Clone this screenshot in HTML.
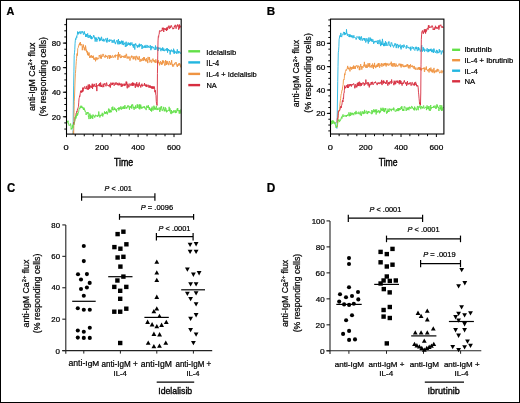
<!DOCTYPE html>
<html><head><meta charset="utf-8"><style>
html,body{margin:0;padding:0;background:#fff;}
.wrap{position:relative;width:520px;height:403px;overflow:hidden;}
.bd{position:absolute;left:0;top:0;width:520px;height:403px;box-sizing:border-box;border:1px solid #000;}
svg{will-change:transform;filter:blur(0.3px);}
svg text{font-family:"Liberation Sans", sans-serif;stroke:#000;stroke-width:0.22px;}
</style></head><body><div class="wrap">
<svg width="520" height="403" viewBox="0 0 520 403" font-family='"Liberation Sans", sans-serif' fill="#000" style="display:block">
<rect x="0" y="0" width="520" height="403" fill="#fff"/>
<clipPath id="ca"><rect x="66.5" y="19.1" width="114.7" height="115"/></clipPath>
<g clip-path="url(#ca)">
<polyline fill="none" stroke="#22b6e0" stroke-width="0.9" stroke-linejoin="round" points="72.76,134.7 73.05,132.4 73.34,105.9 73.62,85.9 73.91,71.8 74.20,55.6 74.49,52.8 74.77,49.7 75.06,43.7 75.35,40.2 75.63,38.6 75.92,39.5 76.21,37.7 76.50,36.6 76.78,37.7 77.07,35.0 77.36,34.5 77.64,31.5 77.93,33.7 78.22,34.4 78.51,32.3 78.79,33.1 79.08,32.1 79.37,33.3 79.65,32.6 79.94,31.2 80.23,31.5 80.52,32.3 80.80,34.1 81.09,32.3 81.38,32.5 81.67,31.7 81.95,32.2 82.24,31.1 82.53,32.5 82.81,32.6 83.10,32.2 83.39,34.6 83.68,34.3 83.96,34.5 84.25,31.3 84.54,33.7 84.82,33.4 85.11,33.5 85.40,34.9 85.69,37.0 85.97,34.1 86.26,35.5 86.55,34.4 86.83,37.0 87.12,36.4 87.41,34.0 87.70,33.4 87.98,37.2 88.27,38.0 88.56,36.4 88.85,35.1 89.13,35.8 89.42,35.8 89.71,37.6 89.99,35.9 90.28,34.9 90.57,37.0 90.86,38.8 91.14,38.2 91.43,36.1 91.72,39.2 92.00,37.6 92.29,38.5 92.58,37.6 92.87,37.7 93.15,37.4 93.44,35.4 93.73,36.6 94.01,35.6 94.30,37.5 94.59,38.4 94.88,37.3 95.16,41.6 95.45,38.6 95.74,37.7 96.03,39.6 96.31,37.7 96.60,38.8 96.89,41.7 97.17,39.1 97.46,39.7 97.75,39.3 98.04,38.8 98.32,36.9 98.61,38.2 98.90,38.7 99.18,38.2 99.47,41.2 99.76,37.6 100.05,40.1 100.33,38.7 100.62,40.5 100.91,40.7 101.19,40.0 101.48,36.8 101.77,37.9 102.06,40.0 102.34,40.0 102.63,41.1 102.92,39.9 103.21,40.4 103.49,38.8 103.78,41.4 104.07,40.6 104.35,41.1 104.64,41.1 104.93,39.2 105.22,39.7 105.50,39.3 105.79,38.4 106.08,38.4 106.36,41.8 106.65,39.9 106.94,42.6 107.23,40.9 107.51,37.9 107.80,40.4 108.09,41.2 108.37,40.5 108.66,40.7 108.95,40.7 109.24,41.9 109.52,39.6 109.81,39.5 110.10,41.1 110.39,40.7 110.67,40.2 110.96,39.6 111.25,40.5 111.53,40.3 111.82,41.6 112.11,42.9 112.40,42.4 112.68,40.3 112.97,40.0 113.26,41.2 113.54,42.5 113.83,41.5 114.12,39.5 114.41,39.7 114.69,42.6 114.98,42.2 115.27,44.1 115.55,44.0 115.84,42.2 116.13,42.2 116.42,41.0 116.70,40.4 116.99,41.0 117.28,40.5 117.57,43.0 117.85,44.3 118.14,42.2 118.43,39.0 118.71,41.6 119.00,44.3 119.29,42.8 119.58,41.0 119.86,44.1 120.15,42.2 120.44,43.8 120.72,41.6 121.01,41.9 121.30,42.7 121.59,40.6 121.87,43.5 122.16,44.5 122.45,41.2 122.73,44.3 123.02,40.8 123.31,43.2 123.60,45.1 123.88,44.0 124.17,43.6 124.46,43.5 124.75,44.1 125.03,42.5 125.32,46.9 125.61,45.3 125.89,44.6 126.18,41.7 126.47,46.4 126.76,45.1 127.04,45.9 127.33,45.5 127.62,43.6 127.90,43.7 128.19,42.4 128.48,44.9 128.77,44.3 129.05,42.9 129.34,43.1 129.63,44.9 129.91,43.2 130.20,45.7 130.49,42.6 130.78,44.2 131.06,45.0 131.35,44.6 131.64,43.7 131.93,42.4 132.21,44.8 132.50,45.6 132.79,44.4 133.07,46.2 133.36,47.7 133.65,44.6 133.94,45.6 134.22,43.9 134.51,46.5 134.80,49.6 135.08,45.8 135.37,45.3 135.66,43.4 135.95,44.5 136.23,45.1 136.52,44.9 136.81,46.1 137.09,45.8 137.38,47.7 137.67,45.5 137.96,46.9 138.24,46.8 138.53,45.2 138.82,44.7 139.11,47.3 139.39,43.7 139.68,46.6 139.97,45.3 140.25,44.8 140.54,45.8 140.83,46.1 141.12,44.0 141.40,44.9 141.69,45.7 141.98,49.0 142.26,48.1 142.55,45.3 142.84,46.2 143.13,48.0 143.41,47.9 143.70,47.4 143.99,46.1 144.27,46.3 144.56,45.6 144.85,47.9 145.14,46.0 145.42,47.6 145.71,47.7 146.00,44.9 146.29,46.8 146.57,47.5 146.86,47.7 147.15,48.0 147.43,45.4 147.72,45.2 148.01,46.2 148.30,47.2 148.58,46.2 148.87,47.5 149.16,47.1 149.44,47.1 149.73,47.6 150.02,45.6 150.31,45.1 150.59,45.7 150.88,50.2 151.17,46.0 151.45,46.6 151.74,48.5 152.03,48.3 152.32,46.6 152.60,46.3 152.89,46.8 153.18,47.9 153.47,48.2 153.75,47.2 154.04,48.3 154.33,49.7 154.61,49.5 154.90,48.9 155.19,48.1 155.48,45.5 155.76,50.0 156.05,48.4 156.34,48.7 156.62,48.4 156.91,46.9 157.20,46.8 157.49,48.8 157.77,49.7 158.06,51.0 158.35,49.4 158.63,47.4 158.92,49.2 159.21,48.3 159.50,48.1 159.78,48.5 160.07,47.7 160.36,49.2 160.65,50.5 160.93,51.2 161.22,48.5 161.51,49.7 161.79,50.0 162.08,48.5 162.37,50.5 162.66,47.4 162.94,48.4 163.23,50.3 163.52,50.8 163.80,48.5 164.09,51.2 164.38,51.0 164.67,50.1 164.95,49.7 165.24,49.9 165.53,49.5 165.81,50.5 166.10,50.4 166.39,48.5 166.68,49.0 166.96,50.7 167.25,48.1 167.54,52.6 167.83,50.7 168.11,49.5 168.40,49.0 168.69,50.1 168.97,51.0 169.26,49.9 169.55,50.8 169.84,50.1 170.12,54.5 170.41,50.9 170.70,51.8 170.98,49.8 171.27,49.6 171.56,49.8 171.85,51.3 172.13,50.5 172.42,51.4 172.71,50.9 172.99,51.3 173.28,52.4 173.57,48.7 173.86,49.8 174.14,53.9 174.43,50.6 174.72,53.1 175.01,52.1 175.29,52.3 175.58,52.4 175.87,51.3 176.15,52.0 176.44,53.7 176.73,52.0 177.02,51.2 177.30,49.3 177.59,51.9 177.88,53.5 178.16,52.7 178.45,51.1 178.74,53.0 179.03,53.2 179.31,51.5 179.60,52.0 179.89,51.8 180.17,53.0 180.46,53.5 180.75,52.9 181.04,52.6"/>
<polyline fill="none" stroke="#ef9442" stroke-width="0.9" stroke-linejoin="round" points="73.12,130.8 73.41,136.8 73.70,133.9 73.98,117.0 74.27,101.3 74.56,96.0 74.84,87.0 75.13,79.0 75.42,73.6 75.71,69.7 75.99,65.5 76.28,61.4 76.57,58.5 76.85,54.2 77.14,53.4 77.43,55.6 77.72,48.5 78.00,47.9 78.29,47.6 78.58,45.6 78.86,44.8 79.15,44.4 79.44,45.0 79.73,43.1 80.01,45.4 80.30,42.0 80.59,45.2 80.88,44.7 81.16,44.4 81.45,44.3 81.74,45.2 82.02,44.6 82.31,50.2 82.60,46.9 82.89,46.4 83.17,47.0 83.46,44.6 83.75,47.8 84.03,47.5 84.32,50.1 84.61,47.7 84.90,50.0 85.18,50.6 85.47,45.5 85.76,47.1 86.04,48.7 86.33,49.2 86.62,51.9 86.91,52.4 87.19,50.9 87.48,54.6 87.77,52.5 88.06,55.3 88.34,53.8 88.63,55.6 88.92,52.4 89.20,52.9 89.49,55.5 89.78,58.0 90.07,57.0 90.35,56.0 90.64,57.4 90.93,56.1 91.21,55.0 91.50,56.6 91.79,57.6 92.08,56.2 92.36,57.7 92.65,56.4 92.94,57.9 93.22,55.6 93.51,57.8 93.80,59.5 94.09,58.2 94.37,59.0 94.66,59.7 94.95,58.7 95.24,57.4 95.52,61.3 95.81,59.2 96.10,58.8 96.38,58.8 96.67,57.4 96.96,60.1 97.25,57.8 97.53,58.5 97.82,58.2 98.11,58.5 98.39,58.7 98.68,58.9 98.97,57.6 99.26,55.0 99.54,56.0 99.83,56.4 100.12,56.8 100.40,58.3 100.69,57.0 100.98,54.6 101.27,58.8 101.55,56.7 101.84,55.9 102.13,56.8 102.42,56.2 102.70,55.2 102.99,53.9 103.28,55.0 103.56,54.7 103.85,56.4 104.14,56.0 104.43,56.7 104.71,56.7 105.00,57.7 105.29,56.3 105.57,54.9 105.86,56.9 106.15,56.7 106.44,56.1 106.72,56.8 107.01,55.7 107.30,56.4 107.58,58.5 107.87,58.6 108.16,56.1 108.45,55.8 108.73,55.2 109.02,56.2 109.31,56.5 109.60,58.9 109.88,55.2 110.17,57.7 110.46,55.5 110.74,58.0 111.03,57.9 111.32,56.6 111.61,57.2 111.89,57.7 112.18,55.5 112.47,55.4 112.75,55.8 113.04,56.9 113.33,57.7 113.62,57.3 113.90,57.3 114.19,56.6 114.48,55.4 114.76,56.4 115.05,57.5 115.34,57.4 115.63,54.7 115.91,55.8 116.20,55.9 116.49,55.8 116.78,55.4 117.06,55.9 117.35,54.6 117.64,54.8 117.92,59.8 118.21,57.0 118.50,52.1 118.79,57.1 119.07,56.2 119.36,54.6 119.65,55.8 119.93,54.2 120.22,57.4 120.51,58.1 120.80,56.6 121.08,57.2 121.37,57.8 121.66,55.7 121.95,55.7 122.23,56.2 122.52,56.9 122.81,56.1 123.09,56.5 123.38,57.5 123.67,56.0 123.96,55.9 124.24,56.4 124.53,55.6 124.82,58.0 125.10,57.1 125.39,57.5 125.68,55.1 125.97,55.8 126.25,53.8 126.54,54.2 126.83,57.0 127.11,58.5 127.40,56.6 127.69,57.3 127.98,57.3 128.26,58.6 128.55,56.6 128.84,56.8 129.13,56.6 129.41,56.7 129.70,58.5 129.99,60.6 130.27,58.3 130.56,58.3 130.85,58.3 131.14,56.3 131.42,57.4 131.71,55.6 132.00,57.0 132.28,56.7 132.57,56.8 132.86,56.5 133.15,59.3 133.43,56.6 133.72,57.4 134.01,59.2 134.29,57.3 134.58,57.4 134.87,56.2 135.16,56.7 135.44,57.4 135.73,60.3 136.02,56.3 136.31,55.8 136.59,56.8 136.88,57.5 137.17,56.6 137.45,59.2 137.74,57.7 138.03,58.2 138.32,59.8 138.60,58.3 138.89,58.0 139.18,56.2 139.46,57.0 139.75,60.7 140.04,61.8 140.33,59.4 140.61,59.2 140.90,60.2 141.19,61.2 141.47,59.6 141.76,60.7 142.05,60.3 142.34,58.2 142.62,58.7 142.91,60.2 143.20,61.0 143.49,59.9 143.77,57.1 144.06,59.7 144.35,57.3 144.63,60.2 144.92,60.1 145.21,58.8 145.50,60.6 145.78,59.9 146.07,61.6 146.36,59.3 146.64,58.2 146.93,60.6 147.22,59.9 147.51,60.6 147.79,63.1 148.08,56.9 148.37,58.7 148.65,59.0 148.94,59.6 149.23,60.0 149.52,57.1 149.80,62.4 150.09,61.4 150.38,61.2 150.67,61.0 150.95,59.8 151.24,61.5 151.53,62.7 151.81,62.6 152.10,60.5 152.39,59.5 152.68,59.6 152.96,58.6 153.25,61.4 153.54,59.9 153.82,60.0 154.11,61.3 154.40,62.3 154.69,60.3 154.97,62.1 155.26,61.9 155.55,62.8 155.83,59.3 156.12,61.2 156.41,62.3 156.70,62.1 156.98,62.0 157.27,61.6 157.56,64.0 157.85,63.8 158.13,61.4 158.42,60.3 158.71,63.0 158.99,62.0 159.28,62.8 159.57,65.3 159.86,63.0 160.14,63.7 160.43,61.2 160.72,62.3 161.00,62.4 161.29,64.3 161.58,62.5 161.87,65.0 162.15,62.6 162.44,60.5 162.73,63.8 163.01,61.7 163.30,60.5 163.59,62.6 163.88,61.2 164.16,62.3 164.45,63.4 164.74,65.6 165.03,64.8 165.31,65.2 165.60,60.0 165.89,62.0 166.17,63.2 166.46,64.9 166.75,61.1 167.04,64.3 167.32,61.4 167.61,61.4 167.90,62.9 168.18,64.2 168.47,63.6 168.76,65.2 169.05,62.9 169.33,61.0 169.62,61.9 169.91,61.9 170.19,64.3 170.48,63.4 170.77,65.0 171.06,64.6 171.34,62.9 171.63,60.2 171.92,63.2 172.21,63.8 172.49,66.5 172.78,64.2 173.07,65.2 173.35,66.2 173.64,66.5 173.93,64.3 174.22,64.7 174.50,63.4 174.79,64.4 175.08,64.4 175.36,62.4 175.65,62.9 175.94,63.2 176.23,62.3 176.51,63.9 176.80,65.9 177.09,65.9 177.37,67.0 177.66,64.6 177.95,65.2 178.24,64.2 178.52,63.6 178.81,65.8 179.10,64.8 179.39,63.2 179.67,64.6 179.96,63.7 180.25,65.1 180.53,66.5 180.82,65.7 181.11,67.8"/>
<polyline fill="none" stroke="#d72e40" stroke-width="0.9" stroke-linejoin="round" points="73.30,124.6 73.59,122.5 73.87,124.7 74.16,122.1 74.45,122.4 74.74,121.4 75.02,117.3 75.31,117.8 75.60,117.3 75.89,115.0 76.17,113.0 76.46,113.2 76.75,111.4 77.03,112.0 77.32,110.1 77.61,108.7 77.90,108.6 78.18,107.6 78.47,106.4 78.76,102.2 79.04,98.7 79.33,97.6 79.62,95.8 79.91,96.4 80.19,93.7 80.48,92.1 80.77,90.7 81.05,92.1 81.34,91.2 81.63,92.6 81.92,90.3 82.20,92.1 82.49,91.4 82.78,87.6 83.07,91.4 83.35,88.0 83.64,87.8 83.93,88.7 84.21,87.6 84.50,87.3 84.79,86.4 85.08,87.9 85.36,88.6 85.65,88.6 85.94,89.0 86.22,87.7 86.51,88.3 86.80,85.9 87.09,89.3 87.37,88.8 87.66,88.3 87.95,89.8 88.23,84.6 88.52,89.4 88.81,87.6 89.10,87.3 89.38,84.4 89.67,88.8 89.96,85.5 90.25,87.2 90.53,86.8 90.82,87.3 91.11,85.7 91.39,87.7 91.68,86.7 91.97,85.8 92.26,83.7 92.54,89.0 92.83,84.7 93.12,84.5 93.40,86.6 93.69,85.8 93.98,86.6 94.27,83.9 94.55,85.3 94.84,86.2 95.13,86.3 95.41,86.3 95.70,86.2 95.99,87.1 96.28,83.3 96.56,87.9 96.85,91.1 97.14,86.8 97.43,86.0 97.71,85.2 98.00,85.9 98.29,85.9 98.57,85.2 98.86,84.2 99.15,85.9 99.44,86.1 99.72,83.0 100.01,84.3 100.30,86.6 100.58,82.5 100.87,83.8 101.16,85.9 101.45,87.0 101.73,85.1 102.02,86.3 102.31,86.8 102.59,87.2 102.88,86.1 103.17,83.7 103.46,85.4 103.74,87.1 104.03,84.4 104.32,84.7 104.61,83.7 104.89,83.0 105.18,84.8 105.47,85.0 105.75,84.9 106.04,86.3 106.33,84.1 106.62,82.6 106.90,84.1 107.19,84.9 107.48,85.0 107.76,85.6 108.05,85.8 108.34,85.2 108.63,85.7 108.91,85.2 109.20,86.6 109.49,84.2 109.77,84.1 110.06,85.8 110.35,87.6 110.64,84.7 110.92,82.6 111.21,84.8 111.50,84.9 111.79,84.9 112.07,83.2 112.36,85.0 112.65,82.8 112.93,84.1 113.22,82.7 113.51,83.6 113.80,84.1 114.08,85.8 114.37,85.0 114.66,84.2 114.94,82.8 115.23,83.2 115.52,84.6 115.81,83.3 116.09,82.3 116.38,83.8 116.67,84.5 116.95,84.6 117.24,83.0 117.53,83.1 117.82,85.2 118.10,83.8 118.39,84.7 118.68,85.3 118.97,82.7 119.25,82.9 119.54,85.1 119.83,84.4 120.11,83.7 120.40,85.2 120.69,84.8 120.98,83.7 121.26,86.9 121.55,84.6 121.84,83.6 122.12,83.9 122.41,86.4 122.70,84.6 122.99,85.8 123.27,84.2 123.56,83.8 123.85,84.3 124.13,85.7 124.42,85.7 124.71,83.7 125.00,85.8 125.28,84.3 125.57,83.9 125.86,85.0 126.15,81.6 126.43,84.1 126.72,81.8 127.01,87.0 127.29,88.3 127.58,84.0 127.87,83.7 128.16,85.0 128.44,84.9 128.73,87.4 129.02,86.1 129.30,86.3 129.59,85.3 129.88,83.6 130.17,84.5 130.45,84.3 130.74,85.7 131.03,85.6 131.31,84.8 131.60,85.2 131.89,83.2 132.18,85.7 132.46,82.5 132.75,85.7 133.04,83.6 133.33,85.6 133.61,82.8 133.90,84.2 134.19,84.2 134.47,83.7 134.76,85.5 135.05,86.4 135.34,87.8 135.62,83.7 135.91,85.5 136.20,85.8 136.48,85.0 136.77,82.2 137.06,86.7 137.35,84.9 137.63,85.3 137.92,84.2 138.21,87.2 138.49,85.9 138.78,83.9 139.07,82.7 139.36,82.5 139.64,85.8 139.93,85.2 140.22,85.3 140.51,87.1 140.79,87.5 141.08,84.6 141.37,84.8 141.65,85.5 141.94,83.7 142.23,86.5 142.52,85.0 142.80,85.3 143.09,85.6 143.38,84.9 143.66,85.2 143.95,85.2 144.24,85.2 144.53,83.0 144.81,85.7 145.10,84.5 145.39,84.7 145.67,86.2 145.96,84.9 146.25,86.9 146.54,84.6 146.82,86.8 147.11,86.9 147.40,85.7 147.69,84.9 147.97,84.7 148.26,84.8 148.55,86.3 148.83,87.6 149.12,85.8 149.41,85.8 149.70,87.6 149.98,85.3 150.27,85.9 150.56,87.7 150.84,86.1 151.13,88.2 151.42,88.1 151.71,86.3 151.99,88.7 152.28,87.0 152.57,88.6 152.85,86.1 153.14,87.6 153.43,86.8 153.72,88.9 154.00,87.8 154.29,86.5 154.58,87.9 154.87,92.2 155.15,90.1 155.44,90.5 155.73,94.8 156.01,95.6 156.30,101.6 156.59,103.8 156.88,105.0 157.16,105.4 157.45,73.6 157.74,55.1 158.02,40.9 158.31,36.7 158.60,37.2 158.89,34.5 159.17,34.3 159.46,30.8 159.75,30.4 160.03,30.7 160.32,31.3 160.61,31.2 160.90,31.5 161.18,30.5 161.47,30.4 161.76,30.0 162.05,30.9 162.33,27.8 162.62,29.3 162.91,28.0 163.19,27.7 163.48,30.5 163.77,32.0 164.06,28.0 164.34,29.4 164.63,29.0 164.92,29.2 165.20,28.6 165.49,30.1 165.78,28.8 166.07,28.8 166.35,28.1 166.64,31.0 166.93,27.2 167.21,27.1 167.50,29.9 167.79,29.0 168.08,27.7 168.36,26.7 168.65,27.4 168.94,25.6 169.23,27.1 169.51,28.8 169.80,28.5 170.09,26.5 170.37,27.9 170.66,26.3 170.95,25.6 171.24,26.1 171.52,25.6 171.81,27.1 172.10,27.1 172.38,27.8 172.67,28.0 172.96,29.2 173.25,28.0 173.53,28.5 173.82,29.0 174.11,26.9 174.39,26.1 174.68,27.1 174.97,24.9 175.26,25.0 175.54,25.0 175.83,27.1 176.12,28.7 176.41,26.1 176.69,25.9 176.98,25.4 177.27,25.6 177.55,24.5 177.84,26.4 178.13,25.4 178.42,27.4 178.70,29.7 178.99,27.5 179.28,24.4 179.56,28.3 179.85,25.4 180.14,27.1 180.43,27.2 180.71,26.5 181.00,26.2"/>
<polyline fill="none" stroke="#62e048" stroke-width="0.9" stroke-linejoin="round" points="66.30,122.3 66.59,121.8 66.87,123.0 67.16,122.2 67.45,121.4 67.74,122.0 68.02,120.7 68.31,124.0 68.60,123.7 68.88,124.9 69.17,125.6 69.46,125.2 69.75,124.9 70.03,125.0 70.32,125.3 70.61,123.5 70.90,125.4 71.18,129.5 71.47,128.0 71.76,128.8 72.04,128.9 72.33,125.3 72.62,125.9 72.91,127.8 73.19,124.4 73.48,123.9 73.77,124.5 74.05,123.6 74.34,122.4 74.63,120.8 74.92,120.4 75.20,119.2 75.49,116.0 75.78,118.5 76.06,118.5 76.35,117.1 76.64,114.5 76.93,116.0 77.21,112.8 77.50,115.3 77.79,114.8 78.08,112.7 78.36,112.8 78.65,111.9 78.94,109.7 79.22,108.3 79.51,108.7 79.80,109.1 80.09,106.6 80.37,107.2 80.66,107.9 80.95,105.7 81.23,107.9 81.52,106.6 81.81,105.9 82.10,106.9 82.38,108.1 82.67,107.2 82.96,108.5 83.24,109.0 83.53,110.0 83.82,107.5 84.11,110.0 84.39,108.6 84.68,109.8 84.97,111.4 85.26,110.8 85.54,111.6 85.83,112.5 86.12,115.0 86.40,113.7 86.69,112.5 86.98,113.1 87.27,112.7 87.55,112.2 87.84,113.8 88.13,112.2 88.41,116.8 88.70,116.2 88.99,119.1 89.28,115.2 89.56,115.4 89.85,113.5 90.14,116.0 90.42,118.8 90.71,114.8 91.00,117.6 91.29,118.2 91.57,116.8 91.86,115.5 92.15,116.9 92.44,116.3 92.72,118.9 93.01,114.5 93.30,116.1 93.58,116.2 93.87,115.5 94.16,116.0 94.45,116.0 94.73,117.6 95.02,116.7 95.31,115.8 95.59,114.8 95.88,116.2 96.17,116.2 96.46,115.8 96.74,115.4 97.03,115.9 97.32,116.6 97.60,117.0 97.89,114.9 98.18,115.6 98.47,116.1 98.75,111.5 99.04,114.2 99.33,114.9 99.62,115.8 99.90,117.5 100.19,114.9 100.48,116.0 100.76,116.1 101.05,114.8 101.34,114.5 101.63,115.4 101.91,115.7 102.20,112.8 102.49,114.1 102.77,116.5 103.06,114.3 103.35,114.5 103.64,114.6 103.92,113.6 104.21,113.9 104.50,111.4 104.78,113.2 105.07,113.4 105.36,112.0 105.65,113.9 105.93,112.0 106.22,112.9 106.51,111.3 106.80,113.6 107.08,112.2 107.37,114.4 107.66,113.2 107.94,112.1 108.23,111.1 108.52,108.8 108.81,108.5 109.09,112.6 109.38,112.4 109.67,109.4 109.95,109.8 110.24,112.4 110.53,110.2 110.82,111.9 111.10,111.8 111.39,112.2 111.68,110.9 111.96,107.2 112.25,109.0 112.54,110.1 112.83,106.6 113.11,109.9 113.40,110.1 113.69,110.1 113.98,109.1 114.26,109.9 114.55,107.6 114.84,109.5 115.12,108.7 115.41,108.8 115.70,110.3 115.99,110.7 116.27,109.4 116.56,112.1 116.85,109.4 117.13,108.7 117.42,108.6 117.71,108.8 118.00,108.2 118.28,108.9 118.57,107.7 118.86,110.5 119.14,107.5 119.43,109.2 119.72,107.7 120.01,108.6 120.29,108.7 120.58,109.1 120.87,106.3 121.16,109.0 121.44,109.6 121.73,107.7 122.02,107.2 122.30,107.4 122.59,108.8 122.88,108.6 123.17,106.4 123.45,108.7 123.74,106.9 124.03,106.3 124.31,107.1 124.60,109.0 124.89,105.1 125.18,106.7 125.46,107.0 125.75,107.8 126.04,108.7 126.32,107.9 126.61,107.0 126.90,108.3 127.19,107.3 127.47,105.6 127.76,106.3 128.05,107.2 128.34,105.7 128.62,105.6 128.91,105.7 129.20,107.9 129.48,109.7 129.77,106.4 130.06,106.7 130.35,107.5 130.63,106.4 130.92,107.4 131.21,107.9 131.49,104.7 131.78,108.7 132.07,106.2 132.36,105.4 132.64,104.3 132.93,106.2 133.22,106.2 133.50,108.1 133.79,107.1 134.08,109.8 134.37,108.2 134.65,107.1 134.94,107.1 135.23,107.6 135.52,105.5 135.80,108.8 136.09,107.2 136.38,107.5 136.66,107.0 136.95,106.9 137.24,104.3 137.53,107.9 137.81,105.4 138.10,104.7 138.39,106.8 138.67,107.8 138.96,108.8 139.25,108.4 139.54,104.4 139.82,109.4 140.11,106.9 140.40,107.8 140.68,104.6 140.97,106.1 141.26,108.7 141.55,108.0 141.83,106.8 142.12,106.8 142.41,108.3 142.70,107.7 142.98,107.8 143.27,106.6 143.56,106.7 143.84,106.8 144.13,108.0 144.42,106.3 144.71,107.9 144.99,108.6 145.28,108.1 145.57,107.9 145.85,107.9 146.14,110.1 146.43,106.1 146.72,106.4 147.00,105.6 147.29,107.8 147.58,106.7 147.86,107.2 148.15,107.6 148.44,105.3 148.73,108.1 149.01,107.2 149.30,110.0 149.59,107.5 149.88,108.0 150.16,109.3 150.45,109.0 150.74,111.0 151.02,110.0 151.31,108.1 151.60,111.6 151.89,107.3 152.17,106.6 152.46,109.0 152.75,110.4 153.03,110.5 153.32,110.4 153.61,109.7 153.90,105.7 154.18,109.5 154.47,107.8 154.76,106.7 155.04,109.6 155.33,109.3 155.62,107.9 155.91,109.5 156.19,107.3 156.48,105.7 156.77,108.5 157.06,110.1 157.34,108.4 157.63,108.5 157.92,110.0 158.20,109.5 158.49,109.1 158.78,108.6 159.07,107.6 159.35,109.7 159.64,111.3 159.93,112.0 160.21,107.4 160.50,109.7 160.79,110.3 161.08,106.4 161.36,107.6 161.65,106.4 161.94,109.5 162.22,110.8 162.51,110.8 162.80,109.2 163.09,109.3 163.37,109.4 163.66,106.9 163.95,107.8 164.24,111.3 164.52,109.9 164.81,109.4 165.10,111.2 165.38,107.4 165.67,108.6 165.96,108.2 166.25,110.9 166.53,112.3 166.82,109.9 167.11,110.8 167.39,111.5 167.68,111.0 167.97,110.5 168.26,110.5 168.54,111.0 168.83,110.2 169.12,106.8 169.40,108.6 169.69,111.3 169.98,108.3 170.27,111.1 170.55,113.2 170.84,113.2 171.13,114.1 171.42,110.0 171.70,112.3 171.99,113.3 172.28,112.2 172.56,111.5 172.85,112.9 173.14,112.3 173.43,111.4 173.71,110.4 174.00,112.4 174.29,110.8 174.57,110.8 174.86,110.5 175.15,112.0 175.44,113.1 175.72,110.4 176.01,110.4 176.30,112.2 176.58,112.7 176.87,110.8 177.16,108.6 177.45,110.6 177.73,108.1 178.02,110.6 178.31,111.1 178.60,110.9 178.88,110.1 179.17,113.5 179.46,111.9 179.74,110.0 180.03,113.6 180.32,111.9 180.61,110.8 180.89,109.3 181.18,109.3"/>
</g>
<rect x="66.5" y="19.1" width="114.7" height="115" fill="none" stroke="#000" stroke-width="1.1"/>
<line x1="64.3" y1="129.06" x2="66.5" y2="129.06" stroke="#000" stroke-width="1"/>
<line x1="64.3" y1="122.92" x2="66.5" y2="122.92" stroke="#000" stroke-width="1"/>
<line x1="64.3" y1="116.78" x2="66.5" y2="116.78" stroke="#000" stroke-width="1"/>
<line x1="64.3" y1="110.64" x2="66.5" y2="110.64" stroke="#000" stroke-width="1"/>
<line x1="64.3" y1="104.5" x2="66.5" y2="104.5" stroke="#000" stroke-width="1"/>
<line x1="64.3" y1="98.36" x2="66.5" y2="98.36" stroke="#000" stroke-width="1"/>
<line x1="64.3" y1="92.22" x2="66.5" y2="92.22" stroke="#000" stroke-width="1"/>
<line x1="64.3" y1="86.08" x2="66.5" y2="86.08" stroke="#000" stroke-width="1"/>
<line x1="64.3" y1="79.94" x2="66.5" y2="79.94" stroke="#000" stroke-width="1"/>
<line x1="64.3" y1="73.8" x2="66.5" y2="73.8" stroke="#000" stroke-width="1"/>
<line x1="64.3" y1="67.66" x2="66.5" y2="67.66" stroke="#000" stroke-width="1"/>
<line x1="64.3" y1="61.52" x2="66.5" y2="61.52" stroke="#000" stroke-width="1"/>
<line x1="64.3" y1="55.38" x2="66.5" y2="55.38" stroke="#000" stroke-width="1"/>
<line x1="64.3" y1="49.24" x2="66.5" y2="49.24" stroke="#000" stroke-width="1"/>
<line x1="64.3" y1="43.1" x2="66.5" y2="43.1" stroke="#000" stroke-width="1"/>
<line x1="64.3" y1="36.96" x2="66.5" y2="36.96" stroke="#000" stroke-width="1"/>
<line x1="64.3" y1="30.82" x2="66.5" y2="30.82" stroke="#000" stroke-width="1"/>
<line x1="64.3" y1="24.68" x2="66.5" y2="24.68" stroke="#000" stroke-width="1"/>
<line x1="62.9" y1="116.78" x2="66.5" y2="116.78" stroke="#000" stroke-width="1"/>
<line x1="62.9" y1="92.22" x2="66.5" y2="92.22" stroke="#000" stroke-width="1"/>
<line x1="62.9" y1="67.66" x2="66.5" y2="67.66" stroke="#000" stroke-width="1"/>
<line x1="62.9" y1="43.1" x2="66.5" y2="43.1" stroke="#000" stroke-width="1"/>
<line x1="75.27" y1="134.1" x2="75.27" y2="136.3" stroke="#000" stroke-width="1"/>
<line x1="84.25" y1="134.1" x2="84.25" y2="136.3" stroke="#000" stroke-width="1"/>
<line x1="93.22" y1="134.1" x2="93.22" y2="136.3" stroke="#000" stroke-width="1"/>
<line x1="102.2" y1="134.1" x2="102.2" y2="137.1" stroke="#000" stroke-width="1"/>
<line x1="111.17" y1="134.1" x2="111.17" y2="136.3" stroke="#000" stroke-width="1"/>
<line x1="120.15" y1="134.1" x2="120.15" y2="136.3" stroke="#000" stroke-width="1"/>
<line x1="129.12" y1="134.1" x2="129.12" y2="136.3" stroke="#000" stroke-width="1"/>
<line x1="138.1" y1="134.1" x2="138.1" y2="137.1" stroke="#000" stroke-width="1"/>
<line x1="147.07" y1="134.1" x2="147.07" y2="136.3" stroke="#000" stroke-width="1"/>
<line x1="156.05" y1="134.1" x2="156.05" y2="136.3" stroke="#000" stroke-width="1"/>
<line x1="165.02" y1="134.1" x2="165.02" y2="136.3" stroke="#000" stroke-width="1"/>
<line x1="174" y1="134.1" x2="174" y2="137.1" stroke="#000" stroke-width="1"/>
<line x1="66.5" y1="134.1" x2="66.5" y2="137.1" stroke="#000" stroke-width="1"/>
<text transform="translate(51.7,119.68) scale(1.0822,1)" font-size="7.43">20</text>
<text transform="translate(51.9,95.12) scale(1.0563,1)" font-size="7.43">40</text>
<text transform="translate(51.7,70.56) scale(1.0822,1)" font-size="7.43">60</text>
<text transform="translate(51.74,46) scale(1.0769,1)" font-size="7.43">80</text>
<text transform="translate(63.53,149.8) scale(1.1789,1)" font-size="7.86">0</text>
<text transform="translate(95.09,149.8) scale(1.0505,1)" font-size="7.86">200</text>
<text transform="translate(131.2,149.8) scale(1.0341,1)" font-size="7.86">400</text>
<text transform="translate(166.89,149.8) scale(1.0505,1)" font-size="7.86">600</text>
<text transform="translate(6.53,14.9) scale(0.9638,1)" font-size="11.3" font-weight="bold">A</text>
<text transform="translate(113.98,165.7) scale(0.8781,1)" font-size="10.07" style="stroke-width:0.4px">Time</text>
<text transform="translate(34.5,110.9) rotate(-90) scale(1.0019,1)" font-size="8.8">anti-IgM Ca<tspan font-size="5.72" dy="-2.9">2+</tspan><tspan dy="2.9"> flux</tspan></text>
<text transform="translate(46.2,116.53) rotate(-90) scale(0.9984,1)" font-size="8.8">(% responding cells)</text>
<line x1="188.3" y1="51.3" x2="200.1" y2="51.3" stroke="#62e048" stroke-width="2.4"/>
<text x="206.3" y="54.7" font-size="7.72">Idelalisib</text>
<line x1="188.3" y1="62.4" x2="200.1" y2="62.4" stroke="#22b6e0" stroke-width="2.4"/>
<text transform="translate(206.32,65.7) scale(0.9079,1)" font-size="8.26">IL-4</text>
<line x1="188.3" y1="73.9" x2="200.1" y2="73.9" stroke="#ef9442" stroke-width="2.4"/>
<text transform="translate(206.33,76.5) scale(0.9523,1)" font-size="7.86">IL-4 + Idelalisib</text>
<line x1="188.3" y1="85.1" x2="200.1" y2="85.1" stroke="#d72e40" stroke-width="2.4"/>
<text transform="translate(206.41,87.6) scale(0.9325,1)" font-size="7.97">NA</text>
<clipPath id="cb"><rect x="330.5" y="19.1" width="113.4" height="114.9"/></clipPath>
<g clip-path="url(#cb)">
<polyline fill="none" stroke="#22b6e0" stroke-width="0.9" stroke-linejoin="round" points="336.31,126.6 336.59,127.2 336.88,128.4 337.16,120.4 337.44,100.0 337.73,81.6 338.01,66.6 338.29,52.8 338.57,50.8 338.86,46.6 339.14,39.2 339.42,38.1 339.71,35.8 339.99,35.4 340.27,36.6 340.55,36.8 340.84,32.9 341.12,35.7 341.40,36.7 341.69,37.1 341.97,35.3 342.25,34.7 342.53,35.1 342.82,34.5 343.10,33.7 343.38,32.8 343.67,31.9 343.95,32.6 344.23,35.1 344.51,32.0 344.80,33.9 345.08,33.0 345.36,34.6 345.65,33.2 345.93,34.1 346.21,33.3 346.49,29.3 346.78,33.2 347.06,33.0 347.34,35.8 347.63,35.2 347.91,34.0 348.19,35.0 348.48,34.8 348.76,35.3 349.04,37.0 349.32,35.4 349.61,37.1 349.89,34.1 350.17,36.6 350.46,35.7 350.74,36.4 351.02,35.4 351.30,37.3 351.59,35.7 351.87,36.9 352.15,35.4 352.44,36.0 352.72,36.9 353.00,38.2 353.28,36.5 353.57,36.7 353.85,35.3 354.13,37.7 354.42,37.1 354.70,37.0 354.98,37.4 355.26,37.6 355.55,37.8 355.83,38.8 356.11,39.6 356.40,39.0 356.68,37.7 356.96,36.4 357.24,36.9 357.53,37.0 357.81,37.4 358.09,37.7 358.38,38.4 358.66,37.8 358.94,36.4 359.22,38.9 359.51,39.9 359.79,36.7 360.07,38.3 360.36,37.8 360.64,37.8 360.92,40.5 361.20,36.4 361.49,36.5 361.77,38.7 362.05,38.4 362.34,39.1 362.62,40.6 362.90,39.9 363.18,39.2 363.47,38.2 363.75,38.6 364.03,39.5 364.32,38.1 364.60,40.6 364.88,39.1 365.16,38.4 365.45,40.2 365.73,42.5 366.01,41.7 366.30,40.1 366.58,39.5 366.86,38.2 367.15,41.3 367.43,40.6 367.71,39.6 367.99,40.5 368.28,43.6 368.56,40.1 368.84,37.5 369.13,38.9 369.41,41.7 369.69,41.5 369.97,40.6 370.26,37.6 370.54,39.6 370.82,40.7 371.11,39.0 371.39,40.8 371.67,38.8 371.95,41.7 372.24,42.0 372.52,40.5 372.80,39.3 373.09,40.2 373.37,40.9 373.65,43.8 373.93,42.9 374.22,42.5 374.50,42.5 374.78,41.1 375.07,42.0 375.35,40.9 375.63,41.6 375.91,42.3 376.20,41.9 376.48,41.4 376.76,40.8 377.05,42.5 377.33,42.6 377.61,44.0 377.89,40.5 378.18,40.1 378.46,42.2 378.74,43.1 379.03,44.2 379.31,42.6 379.59,42.2 379.87,39.7 380.16,41.8 380.44,43.6 380.72,46.1 381.01,41.5 381.29,42.3 381.57,44.9 381.85,43.1 382.14,45.0 382.42,38.9 382.70,40.9 382.99,42.2 383.27,43.3 383.55,46.1 383.84,44.0 384.12,45.4 384.40,43.0 384.68,46.1 384.97,45.2 385.25,42.2 385.53,41.2 385.82,44.8 386.10,46.0 386.38,43.0 386.66,42.5 386.95,44.9 387.23,45.0 387.51,45.0 387.80,45.7 388.08,45.2 388.36,42.6 388.64,43.0 388.93,41.4 389.21,43.9 389.49,44.5 389.78,45.6 390.06,44.8 390.34,46.1 390.62,47.1 390.91,44.0 391.19,42.5 391.47,43.2 391.76,42.7 392.04,44.1 392.32,45.6 392.60,44.8 392.89,45.3 393.17,46.4 393.45,47.4 393.74,47.3 394.02,45.4 394.30,44.9 394.58,45.7 394.87,43.4 395.15,44.7 395.43,44.5 395.72,43.6 396.00,46.1 396.28,48.1 396.56,44.9 396.85,46.2 397.13,44.0 397.41,44.8 397.70,44.3 397.98,44.5 398.26,48.2 398.54,45.3 398.83,46.5 399.11,47.0 399.39,46.6 399.68,45.1 399.96,44.7 400.24,44.5 400.52,48.0 400.81,47.3 401.09,49.4 401.37,46.9 401.66,45.5 401.94,47.2 402.22,46.2 402.51,46.1 402.79,45.1 403.07,47.3 403.35,47.8 403.64,47.8 403.92,44.6 404.20,44.9 404.49,46.7 404.77,46.5 405.05,46.6 405.33,46.6 405.62,47.1 405.90,47.5 406.18,48.7 406.47,48.2 406.75,45.1 407.03,46.1 407.31,47.0 407.60,47.5 407.88,47.3 408.16,46.9 408.45,48.1 408.73,47.3 409.01,47.1 409.29,48.4 409.58,48.8 409.86,49.1 410.14,49.3 410.43,46.8 410.71,50.6 410.99,48.7 411.27,48.7 411.56,48.8 411.84,47.9 412.12,46.5 412.41,47.6 412.69,48.2 412.97,48.9 413.25,48.4 413.54,47.0 413.82,48.5 414.10,49.8 414.39,50.2 414.67,50.0 414.95,50.4 415.23,47.3 415.52,47.7 415.80,48.7 416.08,46.7 416.37,49.1 416.65,47.8 416.93,47.4 417.21,50.5 417.50,51.1 417.78,50.3 418.06,47.8 418.35,47.0 418.63,50.2 418.91,47.8 419.20,49.2 419.48,49.6 419.76,49.8 420.04,49.6 420.33,51.5 420.61,50.9 420.89,51.0 421.18,48.9 421.46,46.5 421.74,45.3 422.02,49.2 422.31,51.7 422.59,50.4 422.87,50.8 423.16,47.2 423.44,48.4 423.72,50.4 424.00,48.6 424.29,48.8 424.57,51.7 424.85,50.8 425.14,50.2 425.42,49.9 425.70,49.7 425.98,50.3 426.27,49.8 426.55,50.7 426.83,51.3 427.12,48.3 427.40,49.3 427.68,49.5 427.96,52.2 428.25,50.8 428.53,49.3 428.81,51.8 429.10,49.2 429.38,50.7 429.66,50.0 429.94,50.6 430.23,50.3 430.51,49.0 430.79,50.9 431.08,48.7 431.36,51.3 431.64,52.1 431.92,50.1 432.21,52.0 432.49,51.6 432.77,49.8 433.06,49.2 433.34,53.0 433.62,50.8 433.90,48.5 434.19,49.1 434.47,51.2 434.75,52.0 435.04,51.7 435.32,52.8 435.60,51.9 435.88,51.6 436.17,51.6 436.45,49.9 436.73,51.5 437.02,53.4 437.30,50.5 437.58,52.7 437.87,52.4 438.15,51.9 438.43,52.2 438.71,53.1 439.00,52.3 439.28,49.1 439.56,52.1 439.85,52.2 440.13,50.5 440.41,50.8 440.69,50.9 440.98,50.8 441.26,54.4 441.54,53.7 441.83,52.2 442.11,51.5 442.39,50.5 442.67,51.4 442.96,52.5 443.24,52.4"/>
<polyline fill="none" stroke="#ef9442" stroke-width="0.9" stroke-linejoin="round" points="336.66,126.9 336.95,126.0 337.23,127.2 337.51,126.2 337.80,120.7 338.08,117.7 338.36,115.4 338.64,110.9 338.93,111.5 339.21,111.2 339.49,109.6 339.78,106.7 340.06,103.1 340.34,100.7 340.63,98.4 340.91,95.5 341.19,93.8 341.47,93.5 341.76,91.1 342.04,90.0 342.32,90.0 342.61,86.7 342.89,85.7 343.17,84.4 343.45,79.9 343.74,79.4 344.02,79.9 344.30,78.3 344.59,73.7 344.87,75.1 345.15,73.0 345.43,71.5 345.72,70.4 346.00,69.7 346.28,70.5 346.57,70.1 346.85,69.1 347.13,68.7 347.41,67.2 347.70,65.9 347.98,68.9 348.26,67.6 348.55,69.2 348.83,69.2 349.11,68.5 349.39,67.9 349.68,68.5 349.96,71.4 350.24,66.7 350.53,67.9 350.81,68.7 351.09,67.0 351.37,68.4 351.66,69.7 351.94,67.4 352.22,67.0 352.51,68.6 352.79,66.7 353.07,66.9 353.35,68.9 353.64,65.5 353.92,66.7 354.20,68.9 354.49,67.1 354.77,67.1 355.05,66.1 355.33,68.9 355.62,66.2 355.90,65.8 356.18,66.1 356.47,66.2 356.75,65.3 357.03,65.9 357.32,66.8 357.60,68.2 357.88,65.8 358.16,65.5 358.45,66.4 358.73,66.7 359.01,66.0 359.30,70.1 359.58,67.1 359.86,70.1 360.14,67.1 360.43,65.4 360.71,64.1 360.99,67.0 361.28,66.3 361.56,66.7 361.84,69.6 362.12,66.2 362.41,66.5 362.69,66.6 362.97,67.8 363.26,66.9 363.54,66.5 363.82,64.8 364.10,65.8 364.39,61.9 364.67,66.2 364.95,66.9 365.24,66.5 365.52,67.5 365.80,64.6 366.08,65.1 366.37,67.8 366.65,66.4 366.93,64.7 367.22,67.8 367.50,66.3 367.78,66.5 368.06,63.2 368.35,65.0 368.63,66.5 368.91,66.9 369.20,63.7 369.48,66.2 369.76,63.1 370.04,67.5 370.33,66.6 370.61,66.3 370.89,66.9 371.18,66.3 371.46,65.0 371.74,66.5 372.02,67.8 372.31,64.3 372.59,63.5 372.87,66.3 373.16,65.5 373.44,69.0 373.72,64.9 374.00,67.1 374.29,66.6 374.57,62.9 374.85,66.7 375.14,65.8 375.42,66.9 375.70,68.1 375.99,67.4 376.27,65.3 376.55,67.0 376.83,66.4 377.12,64.5 377.40,65.3 377.68,67.0 377.97,63.6 378.25,64.7 378.53,63.3 378.81,66.2 379.10,63.2 379.38,66.5 379.66,67.7 379.95,66.0 380.23,65.6 380.51,64.8 380.79,65.7 381.08,64.3 381.36,63.1 381.64,65.5 381.93,66.8 382.21,65.7 382.49,63.9 382.77,63.6 383.06,65.1 383.34,66.1 383.62,65.0 383.91,63.5 384.19,65.4 384.47,63.1 384.75,64.0 385.04,64.2 385.32,65.3 385.60,62.9 385.89,64.2 386.17,66.5 386.45,63.8 386.73,64.8 387.02,63.1 387.30,63.9 387.58,65.2 387.87,64.3 388.15,65.0 388.43,65.6 388.71,64.6 389.00,63.4 389.28,64.2 389.56,64.6 389.85,65.3 390.13,63.9 390.41,64.1 390.69,63.2 390.98,63.9 391.26,61.7 391.54,66.2 391.83,65.1 392.11,64.0 392.39,63.4 392.68,66.5 392.96,66.7 393.24,65.1 393.52,63.4 393.81,63.1 394.09,66.5 394.37,65.0 394.66,63.2 394.94,64.5 395.22,66.2 395.50,66.0 395.79,66.8 396.07,63.6 396.35,65.0 396.64,65.6 396.92,66.2 397.20,65.4 397.48,66.2 397.77,66.5 398.05,65.3 398.33,65.4 398.62,64.5 398.90,64.8 399.18,63.5 399.46,64.9 399.75,64.8 400.03,64.8 400.31,66.2 400.60,63.8 400.88,65.7 401.16,67.5 401.44,64.1 401.73,64.2 402.01,66.0 402.29,64.4 402.58,64.0 402.86,64.4 403.14,67.0 403.42,65.7 403.71,67.0 403.99,66.8 404.27,66.7 404.56,67.1 404.84,65.5 405.12,66.9 405.40,65.4 405.69,65.7 405.97,66.9 406.25,66.1 406.54,65.3 406.82,64.6 407.10,66.4 407.38,64.2 407.67,65.3 407.95,64.7 408.23,68.0 408.52,68.3 408.80,65.3 409.08,66.7 409.36,66.2 409.65,65.1 409.93,68.4 410.21,66.6 410.50,64.3 410.78,65.5 411.06,66.7 411.35,66.3 411.63,67.0 411.91,66.2 412.19,65.3 412.48,67.3 412.76,66.6 413.04,66.8 413.33,66.4 413.61,66.2 413.89,68.7 414.17,66.3 414.46,66.2 414.74,68.9 415.02,68.3 415.31,69.7 415.59,68.5 415.87,67.5 416.15,69.3 416.44,69.2 416.72,69.3 417.00,69.2 417.29,69.3 417.57,69.7 417.85,67.7 418.13,68.4 418.42,69.4 418.70,67.3 418.98,68.9 419.27,67.4 419.55,69.9 419.83,67.0 420.11,68.8 420.40,69.9 420.68,68.3 420.96,70.3 421.25,70.4 421.53,68.7 421.81,69.4 422.09,68.4 422.38,68.6 422.66,68.6 422.94,68.7 423.23,68.1 423.51,68.9 423.79,67.7 424.07,67.7 424.36,71.5 424.64,72.0 424.92,67.6 425.21,69.5 425.49,69.2 425.77,69.5 426.05,69.1 426.34,66.5 426.62,69.9 426.90,69.6 427.19,69.6 427.47,71.0 427.75,71.1 428.04,70.3 428.32,69.8 428.60,69.3 428.88,72.3 429.17,72.4 429.45,68.1 429.73,69.8 430.02,69.0 430.30,70.4 430.58,71.1 430.86,67.6 431.15,71.3 431.43,71.7 431.71,69.6 432.00,70.1 432.28,72.5 432.56,70.6 432.84,69.4 433.13,72.3 433.41,71.6 433.69,69.7 433.98,67.9 434.26,73.2 434.54,72.1 434.82,70.8 435.11,71.9 435.39,72.2 435.67,71.7 435.96,70.3 436.24,72.2 436.52,70.1 436.80,69.7 437.09,69.8 437.37,68.9 437.65,71.5 437.94,71.4 438.22,69.9 438.50,69.4 438.78,69.8 439.07,71.7 439.35,72.1 439.63,73.2 439.92,72.3 440.20,72.8 440.48,72.4 440.76,72.2 441.05,70.6 441.33,70.4 441.61,71.6 441.90,73.2 442.18,72.1 442.46,71.3 442.74,70.7 443.03,71.4 443.31,70.9"/>
<polyline fill="none" stroke="#d72e40" stroke-width="0.9" stroke-linejoin="round" points="337.02,122.8 337.30,118.4 337.58,118.7 337.87,118.2 338.15,113.4 338.43,111.2 338.72,110.8 339.00,110.2 339.28,110.4 339.56,110.6 339.85,110.3 340.13,109.1 340.41,108.6 340.70,106.4 340.98,106.0 341.26,107.9 341.54,105.3 341.83,105.2 342.11,102.9 342.39,100.6 342.68,100.2 342.96,102.0 343.24,97.9 343.52,98.7 343.81,93.4 344.09,93.2 344.37,90.7 344.66,85.6 344.94,88.5 345.22,86.9 345.50,87.9 345.79,87.3 346.07,87.5 346.35,85.5 346.64,86.4 346.92,85.7 347.20,85.1 347.48,88.0 347.77,84.4 348.05,85.8 348.33,87.9 348.62,86.9 348.90,84.7 349.18,84.1 349.47,86.3 349.75,85.6 350.03,85.2 350.31,84.1 350.60,85.4 350.88,84.2 351.16,86.4 351.45,86.5 351.73,84.7 352.01,84.2 352.29,85.2 352.58,84.5 352.86,84.8 353.14,84.2 353.43,83.5 353.71,84.2 353.99,83.9 354.27,85.4 354.56,85.9 354.84,88.3 355.12,85.0 355.41,84.8 355.69,84.2 355.97,87.3 356.25,86.0 356.54,85.7 356.82,87.3 357.10,84.0 357.39,83.0 357.67,86.1 357.95,84.4 358.23,82.3 358.52,85.9 358.80,83.6 359.08,82.3 359.37,81.7 359.65,85.9 359.93,86.2 360.21,84.5 360.50,82.8 360.78,85.8 361.06,85.7 361.35,86.0 361.63,83.2 361.91,84.8 362.19,83.7 362.48,83.3 362.76,82.6 363.04,83.4 363.33,83.7 363.61,82.6 363.89,83.3 364.17,85.7 364.46,85.2 364.74,83.1 365.02,83.7 365.31,84.5 365.59,83.8 365.87,79.6 366.16,83.3 366.44,83.4 366.72,83.3 367.00,84.2 367.29,82.4 367.57,82.5 367.85,83.2 368.14,85.6 368.42,82.5 368.70,82.5 368.98,83.8 369.27,87.4 369.55,84.5 369.83,85.4 370.12,84.3 370.40,84.5 370.68,84.9 370.96,82.5 371.25,83.3 371.53,82.0 371.81,84.6 372.10,84.1 372.38,81.8 372.66,82.8 372.94,84.4 373.23,84.9 373.51,84.5 373.79,83.7 374.08,82.6 374.36,83.1 374.64,82.4 374.92,82.1 375.21,83.0 375.49,81.6 375.77,82.0 376.06,83.3 376.34,83.5 376.62,83.3 376.90,84.2 377.19,85.1 377.47,83.4 377.75,83.8 378.04,82.4 378.32,83.7 378.60,83.0 378.88,82.7 379.17,83.5 379.45,82.8 379.73,83.8 380.02,83.6 380.30,81.9 380.58,82.1 380.86,82.7 381.15,83.8 381.43,82.0 381.71,79.9 382.00,85.1 382.28,81.8 382.56,82.1 382.84,81.1 383.13,80.8 383.41,83.6 383.69,80.5 383.98,82.9 384.26,83.0 384.54,81.7 384.83,82.4 385.11,82.1 385.39,83.0 385.67,83.8 385.96,82.5 386.24,83.7 386.52,80.7 386.81,81.6 387.09,80.3 387.37,83.5 387.65,85.2 387.94,85.7 388.22,83.2 388.50,84.0 388.79,82.0 389.07,84.1 389.35,84.4 389.63,82.2 389.92,82.7 390.20,81.4 390.48,81.0 390.77,81.6 391.05,83.8 391.33,83.7 391.61,79.5 391.90,82.1 392.18,82.0 392.46,82.1 392.75,82.4 393.03,82.6 393.31,83.2 393.59,83.2 393.88,85.2 394.16,80.7 394.44,82.2 394.73,84.2 395.01,82.1 395.29,81.5 395.57,84.2 395.86,83.5 396.14,80.6 396.42,81.4 396.71,81.8 396.99,81.1 397.27,82.5 397.55,83.0 397.84,80.5 398.12,82.5 398.40,82.7 398.69,81.8 398.97,82.4 399.25,84.3 399.53,80.4 399.82,82.3 400.10,80.3 400.38,81.6 400.67,83.8 400.95,80.9 401.23,82.6 401.52,83.9 401.80,83.0 402.08,85.6 402.36,82.7 402.65,83.6 402.93,83.3 403.21,84.0 403.50,82.1 403.78,82.2 404.06,81.3 404.34,80.4 404.63,82.1 404.91,82.7 405.19,82.5 405.48,84.0 405.76,83.9 406.04,82.2 406.32,84.0 406.61,85.9 406.89,84.1 407.17,82.9 407.46,81.2 407.74,83.9 408.02,84.7 408.30,83.4 408.59,83.5 408.87,83.1 409.15,84.1 409.44,83.3 409.72,84.2 410.00,82.4 410.28,83.0 410.57,82.8 410.85,84.1 411.13,85.7 411.42,84.0 411.70,83.8 411.98,82.3 412.26,82.3 412.55,83.7 412.83,84.0 413.11,85.2 413.40,84.2 413.68,83.7 413.96,84.5 414.24,85.6 414.53,82.7 414.81,85.1 415.09,82.2 415.38,82.3 415.66,81.9 415.94,85.0 416.22,83.7 416.51,86.0 416.79,85.2 417.07,86.5 417.36,85.8 417.64,85.3 417.92,85.8 418.20,87.8 418.49,92.2 418.77,94.9 419.05,98.2 419.34,101.1 419.62,104.3 419.90,103.2 420.19,102.7 420.47,105.2 420.75,93.0 421.03,64.8 421.32,39.7 421.60,34.9 421.88,31.8 422.17,32.2 422.45,30.5 422.73,31.5 423.01,32.6 423.30,33.8 423.58,31.9 423.86,32.0 424.15,29.6 424.43,29.6 424.71,32.3 424.99,29.4 425.28,29.1 425.56,33.5 425.84,31.7 426.13,29.5 426.41,31.5 426.69,30.6 426.97,28.6 427.26,28.6 427.54,28.2 427.82,27.8 428.11,29.6 428.39,25.5 428.67,27.1 428.95,25.3 429.24,27.9 429.52,27.2 429.80,27.2 430.09,27.8 430.37,27.2 430.65,27.2 430.93,26.5 431.22,27.0 431.50,27.4 431.78,26.9 432.07,25.5 432.35,27.1 432.63,26.7 432.91,27.1 433.20,30.0 433.48,29.1 433.76,28.8 434.05,29.4 434.33,28.5 434.61,29.8 434.89,27.4 435.18,28.0 435.46,25.8 435.74,26.5 436.03,28.8 436.31,27.8 436.59,27.2 436.88,28.1 437.16,27.8 437.44,28.7 437.72,28.4 438.01,27.0 438.29,27.5 438.57,25.6 438.86,29.6 439.14,28.6 439.42,27.7 439.70,25.2 439.99,25.3 440.27,25.8 440.55,25.6 440.84,24.7 441.12,25.7 441.40,27.1 441.68,26.8 441.97,27.8 442.25,27.4 442.53,26.5 442.82,27.5 443.10,26.9 443.38,27.4"/>
<polyline fill="none" stroke="#62e048" stroke-width="0.9" stroke-linejoin="round" points="330.30,120.0 330.58,120.1 330.87,123.2 331.15,124.5 331.43,122.3 331.71,120.8 332.00,121.9 332.28,123.8 332.56,122.9 332.85,120.2 333.13,123.5 333.41,121.0 333.69,121.2 333.98,121.7 334.26,121.8 334.54,123.9 334.83,124.2 335.11,122.1 335.39,125.0 335.67,126.0 335.96,127.8 336.24,127.4 336.52,126.2 336.81,125.8 337.09,126.4 337.37,124.9 337.65,123.2 337.94,121.8 338.22,120.0 338.50,121.0 338.79,119.4 339.07,120.2 339.35,122.1 339.64,121.7 339.92,119.9 340.20,119.7 340.48,120.5 340.77,119.9 341.05,118.3 341.33,117.6 341.62,116.7 341.90,118.6 342.18,117.1 342.46,115.8 342.75,116.3 343.03,114.4 343.31,116.7 343.60,116.4 343.88,115.9 344.16,116.5 344.44,116.0 344.73,115.4 345.01,115.6 345.29,116.1 345.58,116.0 345.86,115.4 346.14,117.0 346.42,115.0 346.71,116.1 346.99,115.2 347.27,116.0 347.56,114.6 347.84,114.9 348.12,114.9 348.40,115.4 348.69,114.4 348.97,112.3 349.25,116.3 349.54,114.1 349.82,113.9 350.10,114.7 350.38,116.0 350.67,112.5 350.95,113.6 351.23,112.9 351.52,114.4 351.80,115.2 352.08,112.9 352.36,112.9 352.65,114.3 352.93,114.4 353.21,113.3 353.50,114.8 353.78,115.2 354.06,114.2 354.34,112.6 354.63,112.6 354.91,113.4 355.19,112.1 355.48,113.7 355.76,114.4 356.04,110.9 356.32,113.8 356.61,113.0 356.89,112.8 357.17,113.4 357.46,113.3 357.74,112.6 358.02,112.7 358.31,114.1 358.59,113.6 358.87,111.7 359.15,112.2 359.44,113.8 359.72,113.4 360.00,114.6 360.29,115.2 360.57,114.2 360.85,111.4 361.13,113.7 361.42,115.8 361.70,113.8 361.98,114.0 362.27,112.3 362.55,111.4 362.83,113.2 363.11,113.0 363.40,114.1 363.68,111.7 363.96,113.6 364.25,113.0 364.53,109.9 364.81,113.5 365.09,112.8 365.38,112.8 365.66,112.2 365.94,112.1 366.23,110.7 366.51,111.7 366.79,111.8 367.07,114.0 367.36,112.3 367.64,114.1 367.92,111.3 368.21,112.3 368.49,111.2 368.77,112.8 369.05,112.2 369.34,112.2 369.62,111.6 369.90,112.3 370.19,113.0 370.47,112.8 370.75,113.1 371.03,113.4 371.32,113.8 371.60,114.2 371.88,110.0 372.17,112.5 372.45,113.5 372.73,110.9 373.01,111.3 373.30,111.9 373.58,110.4 373.86,109.2 374.15,112.4 374.43,110.1 374.71,110.6 375.00,110.1 375.28,112.0 375.56,109.6 375.84,109.7 376.13,114.5 376.41,110.4 376.69,109.5 376.98,112.8 377.26,111.2 377.54,111.5 377.82,111.1 378.11,112.3 378.39,110.6 378.67,110.1 378.96,111.1 379.24,111.2 379.52,113.3 379.80,110.8 380.09,112.5 380.37,111.2 380.65,112.0 380.94,107.8 381.22,110.3 381.50,108.9 381.78,110.5 382.07,110.8 382.35,109.8 382.63,110.6 382.92,107.7 383.20,110.4 383.48,108.6 383.76,111.7 384.05,111.9 384.33,109.9 384.61,112.1 384.90,108.3 385.18,109.3 385.46,110.1 385.74,108.1 386.03,110.6 386.31,111.3 386.59,113.7 386.88,113.2 387.16,111.0 387.44,112.8 387.72,109.6 388.01,108.7 388.29,109.3 388.57,112.0 388.86,111.4 389.14,111.9 389.42,109.4 389.70,108.5 389.99,110.0 390.27,109.8 390.55,109.6 390.84,108.9 391.12,110.8 391.40,111.2 391.68,109.0 391.97,108.9 392.25,109.0 392.53,109.5 392.82,108.7 393.10,108.9 393.38,110.3 393.67,107.6 393.95,107.8 394.23,109.6 394.51,109.7 394.80,110.4 395.08,111.4 395.36,111.1 395.65,111.5 395.93,110.6 396.21,109.1 396.49,109.4 396.78,111.2 397.06,109.9 397.34,110.1 397.63,110.8 397.91,108.1 398.19,110.3 398.47,108.3 398.76,111.1 399.04,109.2 399.32,110.0 399.61,108.0 399.89,108.4 400.17,110.0 400.45,108.4 400.74,107.2 401.02,107.0 401.30,106.8 401.59,109.1 401.87,106.2 402.15,109.2 402.43,109.2 402.72,110.8 403.00,109.4 403.28,110.7 403.57,109.0 403.85,111.0 404.13,106.7 404.41,107.2 404.70,106.5 404.98,106.8 405.26,108.2 405.55,108.0 405.83,108.3 406.11,111.0 406.39,110.5 406.68,109.4 406.96,107.5 407.24,110.1 407.53,108.6 407.81,109.2 408.09,107.7 408.37,107.4 408.66,109.7 408.94,110.2 409.22,106.9 409.51,106.8 409.79,108.3 410.07,107.4 410.36,108.2 410.64,107.8 410.92,108.8 411.20,107.8 411.49,106.1 411.77,106.1 412.05,106.4 412.34,107.9 412.62,107.1 412.90,108.7 413.18,108.8 413.47,108.2 413.75,109.7 414.03,108.3 414.32,110.4 414.60,106.6 414.88,106.8 415.16,107.7 415.45,109.1 415.73,109.1 416.01,108.8 416.30,110.4 416.58,109.1 416.86,109.4 417.14,107.3 417.43,106.2 417.71,106.0 417.99,109.5 418.28,110.2 418.56,106.6 418.84,106.8 419.12,106.5 419.41,107.0 419.69,107.6 419.97,105.3 420.26,106.5 420.54,107.0 420.82,109.2 421.10,108.1 421.39,106.3 421.67,107.0 421.95,106.7 422.24,108.0 422.52,107.1 422.80,108.6 423.08,108.3 423.37,106.6 423.65,105.5 423.93,108.0 424.22,108.3 424.50,108.3 424.78,108.2 425.06,107.9 425.35,106.8 425.63,107.3 425.91,107.8 426.20,107.3 426.48,110.1 426.76,108.5 427.04,105.4 427.33,108.8 427.61,108.9 427.89,107.7 428.18,106.5 428.46,108.0 428.74,109.3 429.03,106.1 429.31,110.5 429.59,109.5 429.87,109.0 430.16,111.0 430.44,106.6 430.72,105.0 431.01,109.3 431.29,108.7 431.57,108.2 431.85,107.0 432.14,107.9 432.42,107.1 432.70,107.0 432.99,107.8 433.27,107.7 433.55,105.9 433.83,107.2 434.12,106.9 434.40,107.6 434.68,106.8 434.97,105.5 435.25,107.2 435.53,108.3 435.81,108.8 436.10,106.5 436.38,108.4 436.66,107.2 436.95,104.3 437.23,106.8 437.51,105.3 437.79,107.2 438.08,107.7 438.36,106.9 438.64,108.6 438.93,111.0 439.21,108.2 439.49,108.6 439.77,107.5 440.06,105.0 440.34,106.3 440.62,109.4 440.91,107.4 441.19,109.8 441.47,110.8 441.75,105.3 442.04,108.3 442.32,110.6 442.60,108.1 442.89,107.8 443.17,107.0 443.45,107.6"/>
</g>
<rect x="330.5" y="19.1" width="113.4" height="114.9" fill="none" stroke="#000" stroke-width="1.1"/>
<line x1="328.3" y1="130.9" x2="330.5" y2="130.9" stroke="#000" stroke-width="1"/>
<line x1="328.3" y1="125.06" x2="330.5" y2="125.06" stroke="#000" stroke-width="1"/>
<line x1="328.3" y1="119.22" x2="330.5" y2="119.22" stroke="#000" stroke-width="1"/>
<line x1="328.3" y1="113.38" x2="330.5" y2="113.38" stroke="#000" stroke-width="1"/>
<line x1="328.3" y1="107.54" x2="330.5" y2="107.54" stroke="#000" stroke-width="1"/>
<line x1="328.3" y1="101.7" x2="330.5" y2="101.7" stroke="#000" stroke-width="1"/>
<line x1="328.3" y1="95.86" x2="330.5" y2="95.86" stroke="#000" stroke-width="1"/>
<line x1="328.3" y1="90.02" x2="330.5" y2="90.02" stroke="#000" stroke-width="1"/>
<line x1="328.3" y1="84.18" x2="330.5" y2="84.18" stroke="#000" stroke-width="1"/>
<line x1="328.3" y1="78.34" x2="330.5" y2="78.34" stroke="#000" stroke-width="1"/>
<line x1="328.3" y1="72.5" x2="330.5" y2="72.5" stroke="#000" stroke-width="1"/>
<line x1="328.3" y1="66.66" x2="330.5" y2="66.66" stroke="#000" stroke-width="1"/>
<line x1="328.3" y1="60.82" x2="330.5" y2="60.82" stroke="#000" stroke-width="1"/>
<line x1="328.3" y1="54.98" x2="330.5" y2="54.98" stroke="#000" stroke-width="1"/>
<line x1="328.3" y1="49.14" x2="330.5" y2="49.14" stroke="#000" stroke-width="1"/>
<line x1="328.3" y1="43.3" x2="330.5" y2="43.3" stroke="#000" stroke-width="1"/>
<line x1="328.3" y1="37.46" x2="330.5" y2="37.46" stroke="#000" stroke-width="1"/>
<line x1="328.3" y1="31.62" x2="330.5" y2="31.62" stroke="#000" stroke-width="1"/>
<line x1="328.3" y1="25.78" x2="330.5" y2="25.78" stroke="#000" stroke-width="1"/>
<line x1="328.3" y1="19.94" x2="330.5" y2="19.94" stroke="#000" stroke-width="1"/>
<line x1="326.9" y1="113.38" x2="330.5" y2="113.38" stroke="#000" stroke-width="1"/>
<line x1="326.9" y1="90.02" x2="330.5" y2="90.02" stroke="#000" stroke-width="1"/>
<line x1="326.9" y1="66.66" x2="330.5" y2="66.66" stroke="#000" stroke-width="1"/>
<line x1="326.9" y1="43.3" x2="330.5" y2="43.3" stroke="#000" stroke-width="1"/>
<line x1="339.14" y1="134" x2="339.14" y2="136.2" stroke="#000" stroke-width="1"/>
<line x1="347.98" y1="134" x2="347.98" y2="136.2" stroke="#000" stroke-width="1"/>
<line x1="356.82" y1="134" x2="356.82" y2="136.2" stroke="#000" stroke-width="1"/>
<line x1="365.66" y1="134" x2="365.66" y2="137" stroke="#000" stroke-width="1"/>
<line x1="374.5" y1="134" x2="374.5" y2="136.2" stroke="#000" stroke-width="1"/>
<line x1="383.34" y1="134" x2="383.34" y2="136.2" stroke="#000" stroke-width="1"/>
<line x1="392.18" y1="134" x2="392.18" y2="136.2" stroke="#000" stroke-width="1"/>
<line x1="401.02" y1="134" x2="401.02" y2="137" stroke="#000" stroke-width="1"/>
<line x1="409.86" y1="134" x2="409.86" y2="136.2" stroke="#000" stroke-width="1"/>
<line x1="418.7" y1="134" x2="418.7" y2="136.2" stroke="#000" stroke-width="1"/>
<line x1="427.54" y1="134" x2="427.54" y2="136.2" stroke="#000" stroke-width="1"/>
<line x1="436.38" y1="134" x2="436.38" y2="137" stroke="#000" stroke-width="1"/>
<line x1="330.5" y1="134" x2="330.5" y2="137" stroke="#000" stroke-width="1"/>
<text transform="translate(316.19,116.48) scale(1.1086,1)" font-size="7.43">20</text>
<text transform="translate(316.4,93.12) scale(1.0821,1)" font-size="7.43">40</text>
<text transform="translate(316.19,69.76) scale(1.1086,1)" font-size="7.43">60</text>
<text transform="translate(316.23,46.4) scale(1.1032,1)" font-size="7.43">80</text>
<text transform="translate(327.73,149.9) scale(1.2234,1)" font-size="7.57">0</text>
<text transform="translate(358.75,149.9) scale(1.0901,1)" font-size="7.57">200</text>
<text transform="translate(394.32,149.9) scale(1.0731,1)" font-size="7.57">400</text>
<text transform="translate(429.47,149.9) scale(1.0901,1)" font-size="7.57">600</text>
<text transform="translate(266.74,15.2) scale(0.9915,1)" font-size="11.74" font-weight="bold">B</text>
<text transform="translate(378.68,165.8) scale(0.8364,1)" font-size="10.34" style="stroke-width:0.4px">Time</text>
<text transform="translate(299.4,107.29) rotate(-90) scale(0.9901,1)" font-size="8.8">anti-IgM Ca<tspan font-size="5.72" dy="-2.9">2+</tspan><tspan dy="2.9"> flux</tspan></text>
<text transform="translate(310.7,112.63) rotate(-90) scale(0.9984,1)" font-size="8.8">(% responding cells)</text>
<line x1="452.1" y1="49.8" x2="460.1" y2="49.8" stroke="#62e048" stroke-width="2.4"/>
<text transform="translate(464.41,52) scale(1.1362,1)" font-size="6.76">Ibrutinib</text>
<line x1="452.1" y1="60.2" x2="460.1" y2="60.2" stroke="#ef9442" stroke-width="2.4"/>
<text transform="translate(464.41,63.1) scale(1.0826,1)" font-size="7.03">IL-4 + Ibrutinib</text>
<line x1="452.1" y1="70.7" x2="460.1" y2="70.7" stroke="#22b6e0" stroke-width="2.4"/>
<text transform="translate(464.39,73.7) scale(0.9880,1)" font-size="7.97">IL-4</text>
<line x1="452.1" y1="81.3" x2="460.1" y2="81.3" stroke="#d72e40" stroke-width="2.4"/>
<text transform="translate(464.48,84.4) scale(1.0076,1)" font-size="7.68">NA</text>
<line x1="65.8" y1="224.9" x2="65.8" y2="353.8" stroke="#222" stroke-width="1.1"/>
<line x1="62.3" y1="350.6" x2="65.8" y2="350.6" stroke="#222" stroke-width="1.1"/>
<line x1="62.3" y1="319.18" x2="65.8" y2="319.18" stroke="#222" stroke-width="1.1"/>
<line x1="62.3" y1="287.76" x2="65.8" y2="287.76" stroke="#222" stroke-width="1.1"/>
<line x1="62.3" y1="256.34" x2="65.8" y2="256.34" stroke="#222" stroke-width="1.1"/>
<line x1="62.3" y1="224.92" x2="65.8" y2="224.92" stroke="#222" stroke-width="1.1"/>
<text transform="translate(51.35,227.7) scale(1.0507,1)" font-size="7.43">80</text>
<text transform="translate(51.31,259) scale(1.0558,1)" font-size="7.43">60</text>
<text transform="translate(51.51,290.4) scale(1.0305,1)" font-size="7.43">40</text>
<text transform="translate(51.31,321.8) scale(1.0558,1)" font-size="7.43">20</text>
<text transform="translate(55.58,353.5) scale(1.0769,1)" font-size="7.43">0</text>
<line x1="62.3" y1="350.6" x2="212.2" y2="350.6" stroke="#222" stroke-width="1.1"/>
<line x1="83.8" y1="350.6" x2="83.8" y2="353.6" stroke="#222" stroke-width="1.0"/>
<line x1="120.4" y1="350.6" x2="120.4" y2="353.6" stroke="#222" stroke-width="1.0"/>
<line x1="156.8" y1="350.6" x2="156.8" y2="353.6" stroke="#222" stroke-width="1.0"/>
<line x1="193.4" y1="350.6" x2="193.4" y2="353.6" stroke="#222" stroke-width="1.0"/>
<circle cx="83.8" cy="246.0" r="2.05"/>
<circle cx="83.8" cy="261.1" r="2.05"/>
<circle cx="78.0" cy="274.2" r="2.05"/>
<circle cx="86.9" cy="274.1" r="2.05"/>
<circle cx="81.0" cy="279.5" r="2.05"/>
<circle cx="89.7" cy="282.9" r="2.05"/>
<circle cx="81.0" cy="289.0" r="2.05"/>
<circle cx="86.9" cy="287.5" r="2.05"/>
<circle cx="83.8" cy="295.8" r="2.05"/>
<circle cx="77.8" cy="308.2" r="2.05"/>
<circle cx="83.8" cy="309.7" r="2.05"/>
<circle cx="89.8" cy="309.7" r="2.05"/>
<circle cx="89.8" cy="327.7" r="2.05"/>
<circle cx="77.8" cy="330.5" r="2.05"/>
<circle cx="83.8" cy="331.7" r="2.05"/>
<circle cx="77.8" cy="337.6" r="2.05"/>
<circle cx="83.8" cy="337.9" r="2.05"/>
<circle cx="89.8" cy="337.9" r="2.05"/>
<rect x="115.4" y="231.9" width="4.4" height="4.4"/>
<rect x="121.2" y="229.5" width="4.4" height="4.4"/>
<rect x="112.2" y="244.9" width="4.4" height="4.4"/>
<rect x="118.2" y="246.5" width="4.4" height="4.4"/>
<rect x="124.2" y="242.1" width="4.4" height="4.4"/>
<rect x="115.4" y="255.3" width="4.4" height="4.4"/>
<rect x="121.2" y="254.6" width="4.4" height="4.4"/>
<rect x="118.2" y="264.4" width="4.4" height="4.4"/>
<rect x="121.2" y="274.4" width="4.4" height="4.4"/>
<rect x="115.2" y="278.3" width="4.4" height="4.4"/>
<rect x="112.1" y="284.7" width="4.4" height="4.4"/>
<rect x="124.1" y="284.7" width="4.4" height="4.4"/>
<rect x="118.0" y="288.6" width="4.4" height="4.4"/>
<rect x="118.0" y="296.6" width="4.4" height="4.4"/>
<rect x="112.1" y="309.5" width="4.4" height="4.4"/>
<rect x="118.0" y="309.5" width="4.4" height="4.4"/>
<rect x="124.1" y="306.5" width="4.4" height="4.4"/>
<rect x="118.0" y="340.8" width="4.4" height="4.4"/>
<path d="M156.8 259.5L159.2 263.8L154.4 263.8Z"/>
<path d="M156.8 270.3L159.2 274.6L154.4 274.6Z"/>
<path d="M156.8 277.7L159.2 282.0L154.4 282.0Z"/>
<path d="M156.8 294.6L159.2 298.9L154.4 298.9Z"/>
<path d="M156.8 306.3L159.2 310.6L154.4 310.6Z"/>
<path d="M153.9 309.0L156.3 313.3L151.5 313.3Z"/>
<path d="M159.5 313.7L161.9 318.0L157.1 318.0Z"/>
<path d="M147.6 319.6L150.0 323.9L145.2 323.9Z"/>
<path d="M152.1 322.1L154.5 326.4L149.7 326.4Z"/>
<path d="M156.8 323.9L159.2 328.2L154.4 328.2Z"/>
<path d="M161.6 322.6L164.0 326.9L159.2 326.9Z"/>
<path d="M166.3 319.8L168.7 324.1L163.9 324.1Z"/>
<path d="M153.9 331.6L156.3 335.9L151.5 335.9Z"/>
<path d="M159.6 332.1L162.0 336.4L157.2 336.4Z"/>
<path d="M148.2 340.5L150.6 344.8L145.8 344.8Z"/>
<path d="M153.9 344.0L156.3 348.3L151.5 348.3Z"/>
<path d="M159.5 343.5L161.9 347.8L157.1 347.8Z"/>
<path d="M165.8 340.5L168.2 344.8L163.4 344.8Z"/>
<path d="M190.1 247.1L192.5 242.8L187.7 242.8Z"/>
<path d="M196.1 246.4L198.5 242.1L193.7 242.1Z"/>
<path d="M190.1 254.1L192.5 249.8L187.7 249.8Z"/>
<path d="M196.1 254.1L198.5 249.8L193.7 249.8Z"/>
<path d="M187.4 271.7L189.8 267.4L185.0 267.4Z"/>
<path d="M193.4 276.9L195.8 272.6L191.0 272.6Z"/>
<path d="M199.1 275.4L201.5 271.1L196.7 271.1Z"/>
<path d="M190.6 286.6L193.0 282.3L188.2 282.3Z"/>
<path d="M196.1 286.6L198.5 282.3L193.7 282.3Z"/>
<path d="M187.4 296.1L189.8 291.8L185.0 291.8Z"/>
<path d="M196.1 295.6L198.5 291.3L193.7 291.3Z"/>
<path d="M190.6 301.3L193.0 297.0L188.2 297.0Z"/>
<path d="M196.1 306.5L198.5 302.2L193.7 302.2Z"/>
<path d="M196.1 317.4L198.5 313.1L193.7 313.1Z"/>
<path d="M190.6 321.0L193.0 316.7L188.2 316.7Z"/>
<path d="M190.6 332.3L193.0 328.0L188.2 328.0Z"/>
<path d="M196.1 336.8L198.5 332.5L193.7 332.5Z"/>
<path d="M193.4 345.3L195.8 341.0L191.0 341.0Z"/>
<line x1="72.2" y1="301.3" x2="95.7" y2="301.3" stroke="#000" stroke-width="1.2"/>
<line x1="108.2" y1="276.7" x2="132.5" y2="276.7" stroke="#000" stroke-width="1.2"/>
<line x1="144.4" y1="317.4" x2="168.8" y2="317.4" stroke="#000" stroke-width="1.2"/>
<line x1="181.2" y1="289.8" x2="205" y2="289.8" stroke="#000" stroke-width="1.2"/>
<line x1="81.6" y1="197" x2="154.9" y2="197" stroke="#000" stroke-width="1.2"/>
<line x1="81.6" y1="193.3" x2="81.6" y2="200.8" stroke="#000" stroke-width="1.2"/>
<line x1="154.9" y1="193.3" x2="154.9" y2="200.8" stroke="#000" stroke-width="1.2"/>
<text transform="translate(104.58,190.6) scale(1.0452,1)" font-size="6.96"><tspan font-style="italic">P</tspan> &lt; .001</text>
<line x1="119.5" y1="216.8" x2="193.6" y2="216.8" stroke="#000" stroke-width="1.2"/>
<line x1="119.5" y1="213.9" x2="119.5" y2="219.8" stroke="#000" stroke-width="1.2"/>
<line x1="193.6" y1="213.9" x2="193.6" y2="219.8" stroke="#000" stroke-width="1.2"/>
<text transform="translate(140.77,209.6) scale(0.9971,1)" font-size="7.54"><tspan font-style="italic">P</tspan> = .0096</text>
<line x1="156.4" y1="236.7" x2="193.1" y2="236.7" stroke="#000" stroke-width="1.2"/>
<line x1="156.4" y1="233" x2="156.4" y2="240.5" stroke="#000" stroke-width="1.2"/>
<line x1="193.1" y1="233" x2="193.1" y2="240.5" stroke="#000" stroke-width="1.2"/>
<text transform="translate(158.58,230.6) scale(0.9794,1)" font-size="7.54"><tspan font-style="italic">P</tspan> &lt; .0001</text>
<text transform="translate(68.41,366.4) scale(0.9311,1)" font-size="9.38">anti-</text>
<text transform="translate(85.35,366.4) scale(1.2177,1)" font-size="6.81">IgM</text>
<text transform="translate(101.54,366.5) scale(0.9932,1)" font-size="8.14">anti-IgM +</text>
<text transform="translate(113.51,375.9) scale(1.0401,1)" font-size="7.39">IL-4</text>
<text transform="translate(140.81,366.5) scale(1.0578,1)" font-size="8.14">anti-IgM</text>
<text transform="translate(175.44,366.5) scale(0.9847,1)" font-size="8.14">anti-IgM +</text>
<text transform="translate(186.41,376.1) scale(1.0118,1)" font-size="7.54">IL-4</text>
<line x1="156.7" y1="382.1" x2="194.2" y2="382.1" stroke="#000" stroke-width="1.1"/>
<text transform="translate(158.21,393.7) scale(0.9612,1)" font-size="9.1" style="stroke-width:0.35px">Idelalisib</text>
<text transform="translate(7.04,192.2) scale(0.8808,1)" font-size="13" font-weight="bold">C</text>
<text transform="translate(28.7,327.49) rotate(-90) scale(0.9960,1)" font-size="8.8">anti-IgM Ca<tspan font-size="5.72" dy="-2.9">2+</tspan><tspan dy="2.9"> flux</tspan></text>
<text transform="translate(40.2,333.13) rotate(-90) scale(0.9984,1)" font-size="8.8">(% responding cells)</text>
<line x1="330" y1="220.9" x2="330" y2="354" stroke="#222" stroke-width="1.1"/>
<line x1="326.5" y1="350.8" x2="330" y2="350.8" stroke="#222" stroke-width="1.1"/>
<line x1="326.5" y1="324.82" x2="330" y2="324.82" stroke="#222" stroke-width="1.1"/>
<line x1="326.5" y1="298.84" x2="330" y2="298.84" stroke="#222" stroke-width="1.1"/>
<line x1="326.5" y1="272.86" x2="330" y2="272.86" stroke="#222" stroke-width="1.1"/>
<line x1="326.5" y1="246.88" x2="330" y2="246.88" stroke="#222" stroke-width="1.1"/>
<line x1="326.5" y1="220.9" x2="330" y2="220.9" stroke="#222" stroke-width="1.1"/>
<text transform="translate(311.7,223.8) scale(1.0100,1)" font-size="7.86">100</text>
<text transform="translate(315.63,249.7) scale(1.0623,1)" font-size="7.71">80</text>
<text transform="translate(315.59,275.7) scale(1.0675,1)" font-size="7.71">60</text>
<text transform="translate(315.8,301.7) scale(1.0420,1)" font-size="7.71">40</text>
<text transform="translate(315.59,327.6) scale(1.0675,1)" font-size="7.71">20</text>
<text transform="translate(320.06,353.6) scale(1.0916,1)" font-size="7.71">0</text>
<line x1="326.5" y1="350.8" x2="481.3" y2="350.8" stroke="#222" stroke-width="1.1"/>
<line x1="348.9" y1="350.8" x2="348.9" y2="353.8" stroke="#222" stroke-width="1.0"/>
<line x1="386.5" y1="350.8" x2="386.5" y2="353.8" stroke="#222" stroke-width="1.0"/>
<line x1="423.5" y1="350.8" x2="423.5" y2="353.8" stroke="#222" stroke-width="1.0"/>
<line x1="460.6" y1="350.8" x2="460.6" y2="353.8" stroke="#222" stroke-width="1.0"/>
<circle cx="349.0" cy="258.1" r="2.05"/>
<circle cx="349.0" cy="264.0" r="2.05"/>
<circle cx="349.0" cy="287.3" r="2.05"/>
<circle cx="358.0" cy="292.0" r="2.05"/>
<circle cx="340.0" cy="294.3" r="2.05"/>
<circle cx="346.0" cy="297.3" r="2.05"/>
<circle cx="352.0" cy="296.0" r="2.05"/>
<circle cx="358.3" cy="299.4" r="2.05"/>
<circle cx="339.2" cy="301.6" r="2.05"/>
<circle cx="344.1" cy="304.4" r="2.05"/>
<circle cx="349.1" cy="304.9" r="2.05"/>
<circle cx="353.8" cy="303.7" r="2.05"/>
<circle cx="352.0" cy="315.3" r="2.05"/>
<circle cx="346.1" cy="320.2" r="2.05"/>
<circle cx="349.1" cy="330.9" r="2.05"/>
<circle cx="343.1" cy="333.9" r="2.05"/>
<circle cx="349.1" cy="339.9" r="2.05"/>
<circle cx="355.0" cy="339.4" r="2.05"/>
<rect x="378.4" y="249.7" width="4.4" height="4.4"/>
<rect x="384.6" y="251.9" width="4.4" height="4.4"/>
<rect x="390.3" y="246.7" width="4.4" height="4.4"/>
<rect x="378.4" y="260.1" width="4.4" height="4.4"/>
<rect x="384.6" y="264.3" width="4.4" height="4.4"/>
<rect x="390.3" y="262.5" width="4.4" height="4.4"/>
<rect x="384.6" y="274.3" width="4.4" height="4.4"/>
<rect x="381.4" y="278.3" width="4.4" height="4.4"/>
<rect x="387.6" y="278.7" width="4.4" height="4.4"/>
<rect x="393.6" y="278.3" width="4.4" height="4.4"/>
<rect x="378.4" y="281.3" width="4.4" height="4.4"/>
<rect x="381.6" y="286.9" width="4.4" height="4.4"/>
<rect x="387.5" y="290.2" width="4.4" height="4.4"/>
<rect x="387.6" y="304.8" width="4.4" height="4.4"/>
<rect x="381.4" y="307.8" width="4.4" height="4.4"/>
<rect x="381.4" y="314.4" width="4.4" height="4.4"/>
<rect x="387.6" y="315.8" width="4.4" height="4.4"/>
<rect x="384.6" y="341.2" width="4.4" height="4.4"/>
<path d="M418.0 310.6L420.4 314.9L415.6 314.9Z"/>
<path d="M421.1 313.7L423.5 318.0L418.7 318.0Z"/>
<path d="M427.3 308.5L429.7 312.8L424.9 312.8Z"/>
<path d="M427.3 317.1L429.7 321.4L424.9 321.4Z"/>
<path d="M433.3 326.2L435.7 330.5L430.9 330.5Z"/>
<path d="M415.3 330.3L417.7 334.6L412.9 334.6Z"/>
<path d="M421.1 330.3L423.5 334.6L418.7 334.6Z"/>
<path d="M427.3 330.3L429.7 334.6L424.9 334.6Z"/>
<path d="M424.3 338.4L426.7 342.7L421.9 342.7Z"/>
<path d="M414.5 341.8L416.9 346.1L412.1 346.1Z"/>
<path d="M416.9 343.1L419.3 347.4L414.5 347.4Z"/>
<path d="M419.4 344.3L421.8 348.6L417.0 348.6Z"/>
<path d="M421.8 345.8L424.2 350.1L419.4 350.1Z"/>
<path d="M424.3 347.4L426.7 351.7L421.9 351.7Z"/>
<path d="M426.8 345.8L429.2 350.1L424.4 350.1Z"/>
<path d="M429.2 344.6L431.6 348.9L426.8 348.9Z"/>
<path d="M431.4 343.4L433.8 347.7L429.0 347.7Z"/>
<path d="M433.8 341.8L436.2 346.1L431.4 346.1Z"/>
<path d="M461.7 272.3L464.1 268.0L459.3 268.0Z"/>
<path d="M464.8 285.4L467.2 281.1L462.4 281.1Z"/>
<path d="M458.6 288.5L461.0 284.2L456.2 284.2Z"/>
<path d="M461.6 309.6L464.0 305.3L459.2 305.3Z"/>
<path d="M458.6 316.0L461.0 311.7L456.2 311.7Z"/>
<path d="M464.6 317.5L467.0 313.2L462.2 313.2Z"/>
<path d="M470.5 315.6L472.9 311.3L468.1 311.3Z"/>
<path d="M455.6 319.4L458.0 315.1L453.2 315.1Z"/>
<path d="M458.6 322.7L461.0 318.4L456.2 318.4Z"/>
<path d="M464.6 326.4L467.0 322.1L462.2 322.1Z"/>
<path d="M455.6 332.4L458.0 328.1L453.2 328.1Z"/>
<path d="M464.6 332.4L467.0 328.1L462.2 328.1Z"/>
<path d="M458.6 337.9L461.0 333.6L456.2 333.6Z"/>
<path d="M467.5 343.8L469.9 339.5L465.1 339.5Z"/>
<path d="M452.7 349.2L455.1 344.9L450.3 344.9Z"/>
<path d="M464.6 349.5L467.0 345.2L462.2 345.2Z"/>
<path d="M470.5 348.0L472.9 343.7L468.1 343.7Z"/>
<path d="M458.6 352.2L461.0 347.9L456.2 347.9Z"/>
<line x1="336.3" y1="304.4" x2="361.7" y2="304.4" stroke="#000" stroke-width="1.2"/>
<line x1="374.2" y1="284.4" x2="399" y2="284.4" stroke="#000" stroke-width="1.2"/>
<line x1="411.2" y1="335.9" x2="436.4" y2="335.9" stroke="#000" stroke-width="1.2"/>
<line x1="448.9" y1="321.5" x2="473.9" y2="321.5" stroke="#000" stroke-width="1.2"/>
<line x1="348.3" y1="218.2" x2="422.6" y2="218.2" stroke="#000" stroke-width="1.2"/>
<line x1="348.3" y1="214.7" x2="348.3" y2="221.9" stroke="#000" stroke-width="1.2"/>
<line x1="422.6" y1="214.7" x2="422.6" y2="221.9" stroke="#000" stroke-width="1.2"/>
<text transform="translate(369.58,211.8) scale(1.0153,1)" font-size="7.25"><tspan font-style="italic">P</tspan> &lt; .0001</text>
<line x1="386.5" y1="238.8" x2="460.5" y2="238.8" stroke="#000" stroke-width="1.2"/>
<line x1="386.5" y1="235.6" x2="386.5" y2="242.2" stroke="#000" stroke-width="1.2"/>
<line x1="460.5" y1="235.6" x2="460.5" y2="242.2" stroke="#000" stroke-width="1.2"/>
<text transform="translate(407.58,232.4) scale(0.9857,1)" font-size="7.54"><tspan font-style="italic">P</tspan> &lt; .0001</text>
<line x1="420.6" y1="263.6" x2="460.5" y2="263.6" stroke="#000" stroke-width="1.2"/>
<line x1="420.6" y1="260" x2="420.6" y2="267.2" stroke="#000" stroke-width="1.2"/>
<line x1="460.5" y1="260" x2="460.5" y2="267.2" stroke="#000" stroke-width="1.2"/>
<text transform="translate(423.27,256.8) scale(0.9971,1)" font-size="7.54"><tspan font-style="italic">P</tspan> = .0019</text>
<text transform="translate(334.73,366.8) scale(1.0704,1)" font-size="7.59">anti-IgM</text>
<text transform="translate(368.54,366.8) scale(1.0564,1)" font-size="7.59">anti-IgM +</text>
<text transform="translate(379.27,376.3) scale(1.0193,1)" font-size="7.97">IL-4</text>
<text transform="translate(409.73,366.8) scale(1.0742,1)" font-size="7.59">anti-IgM</text>
<text transform="translate(443.94,366.8) scale(1.0503,1)" font-size="7.59">anti-IgM +</text>
<text transform="translate(454.46,375.9) scale(1.0659,1)" font-size="7.68">IL-4</text>
<line x1="424.8" y1="382.1" x2="464" y2="382.1" stroke="#000" stroke-width="1.1"/>
<text transform="translate(427.48,394) scale(0.9541,1)" font-size="9.52" style="stroke-width:0.35px">Ibrutinib</text>
<text transform="translate(266.73,191.8) scale(0.9750,1)" font-size="12.17" font-weight="bold">D</text>
<text transform="translate(287.6,327.09) rotate(-90) scale(0.9872,1)" font-size="8.8">anti-IgM Ca<tspan font-size="5.72" dy="-2.9">2+</tspan><tspan dy="2.9"> flux</tspan></text>
<text transform="translate(299.5,332.32) rotate(-90) scale(0.9857,1)" font-size="8.8">(% responding cells)</text>
</svg>
<div class="bd"></div>
</div></body></html>
